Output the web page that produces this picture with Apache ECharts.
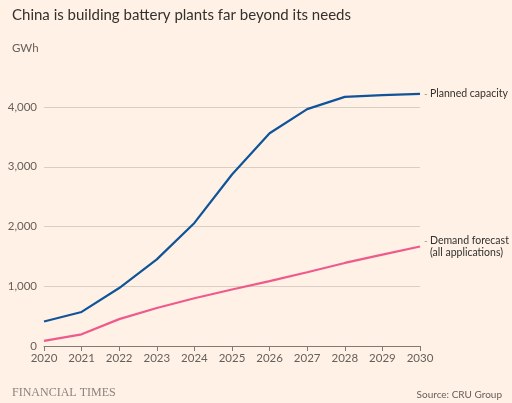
<!DOCTYPE html>
<html><head><meta charset="utf-8">
<script src="https://cdn.jsdelivr.net/npm/echarts@6/dist/echarts.min.js"></script>
<style>html,body{margin:0;padding:0;background:#fff1e5;}#c{width:512px;height:403px;}</style>
</head><body><div id="c"></div>
<script>
const years = ['2020','2021','2022','2023','2024','2025','2026','2027','2028','2029','2030'];
const plannedCapacity = [410, 570, 970, 1450, 2060, 2870, 3560, 3965, 4170, 4200, 4220];
const demandForecast = [85, 195, 450, 635, 800, 945, 1085, 1235, 1390, 1530, 1665];
const yTicks = [0, 1000, 2000, 3000, 4000];

const chart = echarts.init(document.getElementById('c'), null, {renderer: 'canvas'});
const font = 'Lato';
chart.setOption({
  backgroundColor: '#fff1e5',
  animation: false,
  textStyle: {fontFamily: font},
  title: [
    {text: 'China is building battery plants far beyond its needs', left: 7, top: 3,
     textStyle: {fontFamily: font, fontSize: 15, fontWeight: 'normal', color: '#33302e'}},
    {text: 'GWh', left: 7, top: 37, textStyle: {fontFamily: font, fontSize: 11.5, fontWeight: 'normal', color: '#66605c'}},
    {text: 'FINANCIAL TIMES', left: 7, top: 382, textStyle: {fontFamily: 'Liberation Serif', fontSize: 12, fontWeight: 'normal', color: '#8a837d'}},
    {text: 'Source: CRU Group', right: 5, top: 385, textStyle: {fontFamily: font, fontSize: 10, fontWeight: 'normal', color: '#66605c'}}
  ],
  grid: {left: 44, right: 92, top: 107, bottom: 57, containLabel: false},
  xAxis: {
    type: 'category', data: years, boundaryGap: false,
    axisLine: {lineStyle: {color: '#807973', width: 1}},
    axisTick: {show: true, length: 5, lineStyle: {color: '#807973'}},
    axisLabel: {color: '#66605c', fontSize: 11.5, margin: 6, fontFamily: font},
    splitLine: {show: false}
  },
  yAxis: {
    type: 'value', min: 0, max: yTicks[yTicks.length-1], interval: 1000,
    axisLine: {show: false}, axisTick: {show: false},
    axisLabel: {color: '#66605c', fontSize: 11.5, margin: 7, fontFamily: font,
      formatter: v => v.toLocaleString('en-US')},
    splitLine: {lineStyle: {color: '#d9cec4', width: 1}}
  },
  series: [
    {name: 'Planned capacity', type: 'line', data: plannedCapacity, clip: false, symbol: 'none',
     lineStyle: {color: '#0f5499', width: 2.2}, itemStyle: {color: '#0f5499'},
     endLabel: {show: true, distance: 4, formatter: '{d|-}{t|Planned capacity}',
       rich: {d: {color: '#999089', fontSize: 10, fontFamily: font, width: 6}, t: {color: '#33302e', fontSize: 10.5, fontFamily: font}}}},
    {name: 'Demand forecast', type: 'line', data: demandForecast, clip: false, symbol: 'none',
     lineStyle: {color: '#ef5a8c', width: 2.2}, itemStyle: {color: '#ef5a8c'},
     endLabel: {show: true, distance: 4, lineHeight: 11.5,
       formatter: '{d|-}{t|Demand forecast}\n{e| }{t|(all applications)}',
       rich: {d: {color: '#999089', fontSize: 10, fontFamily: font, width: 6}, e: {fontSize: 10, width: 6},
              t: {color: '#33302e', fontSize: 10.5, fontFamily: font, lineHeight: 11.5}}}}
  ]
});
</script></body></html>
